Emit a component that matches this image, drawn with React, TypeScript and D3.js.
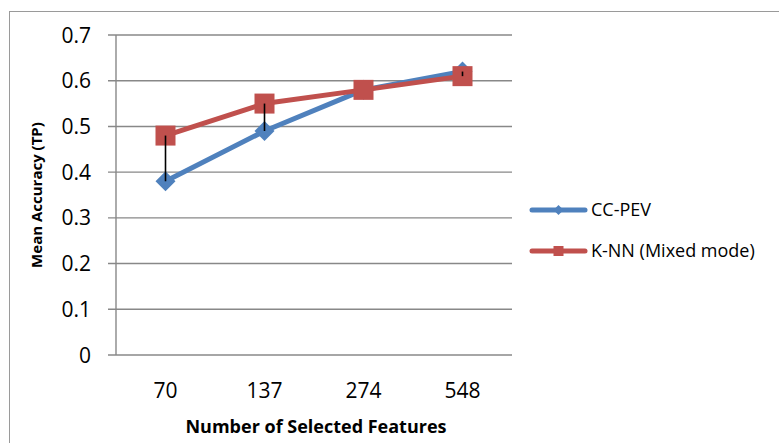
import React from "react";
import * as d3 from "d3";

const categories = ["70", "137", "274", "548"];
const ccPev = [0.38, 0.49, 0.58, 0.62];
const knnMixed = [0.48, 0.55, 0.58, 0.61];
const yTicks = [0, 0.1, 0.2, 0.3, 0.4, 0.5, 0.6, 0.7];
const seriesNames = ["CC-PEV", "K-NN (Mixed mode)"];

const W = 779;
const H = 443;
const plot = { left: 116, right: 512, top: 35, bottom: 355 };
const BLUE = "#4F81BD";
const RED = "#C0504D";
const GRID = "#888888";
const FONT = "'Open Sans', 'Liberation Sans', sans-serif";

export default function App() {
  const x = d3
    .scaleBand<string>()
    .domain(categories)
    .range([plot.left, plot.right]);
  const cx = (c: string) => (x(c) as number) + x.bandwidth() / 2;
  const y = d3.scaleLinear().domain([0, 0.7]).range([plot.bottom, plot.top]);

  const line = d3
    .line<number>()
    .x((_, i) => cx(categories[i]))
    .y((v) => y(v));

  const diamond = (px: number, py: number, r: number) =>
    `M${px},${py - r}L${px + r},${py}L${px},${py + r}L${px - r},${py}Z`;

  const legendY = [210, 251];

  return (
    <svg
      width={W}
      height={H}
      style={{ position: "absolute", left: 0, top: 0, background: "#fff" }}
    >
      <rect x={9.5} y={11.5} width={820} height={500} fill="#fff" stroke="#9a9a9a" strokeWidth={1} />

      {/* horizontal gridlines with their left tick marks */}
      {yTicks.map((t) => (
        <line
          key={t}
          x1={plot.left - 8}
          x2={plot.right}
          y1={y(t)}
          y2={y(t)}
          stroke={GRID}
          strokeWidth={1.4}
        />
      ))}
      {/* value axis */}
      <line x1={plot.left} x2={plot.left} y1={plot.top} y2={plot.bottom} stroke={GRID} strokeWidth={1.4} />

      {/* y tick labels */}
      {yTicks.map((t) => (
        <text
          key={t}
          x={91}
          y={y(t)}
          dy="0.36em"
          textAnchor="end"
          fontFamily={FONT}
          fontSize={21}
          fill="#000"
        >
          {t === 0 ? "0" : t.toFixed(1)}
        </text>
      ))}

      {/* x tick labels */}
      {categories.map((c) => (
        <text
          key={c}
          x={cx(c)}
          y={398}
          textAnchor="middle"
          fontFamily={FONT}
          fontSize={21}
          fill="#000"
        >
          {c}
        </text>
      ))}

      {/* axis titles */}
      <text
        x={316}
        y={433}
        textAnchor="middle"
        fontFamily={FONT}
        fontWeight="bold"
        fontSize={18}
        fill="#000"
      >
        Number of Selected Features
      </text>
      <text
        transform={`translate(42,${(plot.top + plot.bottom) / 2}) rotate(-90)`}
        textAnchor="middle"
        fontFamily={FONT}
        fontWeight="bold"
        fontSize={15}
        fill="#000"
      >
        Mean Accuracy (TP)
      </text>

      {/* CC-PEV series */}
      <path d={line(ccPev) || ""} fill="none" stroke={BLUE} strokeWidth={5} strokeLinejoin="round" />
      {ccPev.map((v, i) => (
        <path key={i} d={diamond(cx(categories[i]), y(v), 10)} fill={BLUE} />
      ))}

      {/* K-NN series */}
      <path d={line(knnMixed) || ""} fill="none" stroke={RED} strokeWidth={5} strokeLinejoin="round" />
      {knnMixed.map((v, i) => (
        <rect
          key={i}
          x={cx(categories[i]) - 10}
          y={y(v) - 10}
          width={20}
          height={20}
          fill={RED}
        />
      ))}

      {/* high-low lines between the two series */}
      {categories.map((c, i) => (
        <line
          key={c}
          x1={cx(c)}
          x2={cx(c)}
          y1={y(knnMixed[i])}
          y2={y(ccPev[i])}
          stroke="#000"
          strokeWidth={1.6}
        />
      ))}

      {/* legend */}
      {seriesNames.map((name, i) => (
        <g key={name}>
          <line
            x1={532}
            x2={585}
            y1={legendY[i]}
            y2={legendY[i]}
            stroke={i === 0 ? BLUE : RED}
            strokeWidth={5}
            strokeLinecap="round"
          />
          {i === 0 ? (
            <path d={diamond(558.5, legendY[i], 5)} fill={BLUE} />
          ) : (
            <rect x={553.5} y={legendY[i] - 5} width={10} height={10} fill={RED} />
          )}
          <text
            x={591}
            y={legendY[i]}
            dy="0.36em"
            fontFamily={FONT}
            fontSize={18}
            fill="#000"
          >
            {name}
          </text>
        </g>
      ))}
    </svg>
  );
}
